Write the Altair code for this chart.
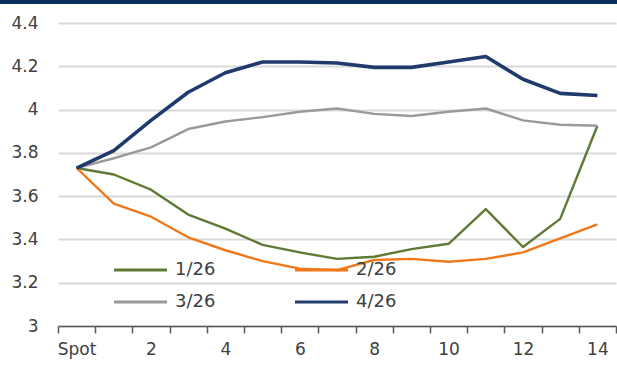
import altair as alt
import pandas as pd

# Curve tenors (x categories)
tenors = ["Spot", "1", "2", "3", "4", "5", "6", "7", "8", "9", "10", "11", "12", "13", "14"]

# Curves by snapshot date
curve_1_26 = [3.73, 3.70, 3.63, 3.515, 3.45, 3.375, 3.34, 3.31, 3.32, 3.355, 3.38, 3.54, 3.365, 3.495, 3.925]
curve_2_26 = [3.73, 3.565, 3.505, 3.41, 3.35, 3.30, 3.265, 3.258, 3.305, 3.31, 3.297, 3.31, 3.34, 3.405, 3.47]
curve_3_26 = [3.73, 3.775, 3.825, 3.91, 3.945, 3.965, 3.99, 4.005, 3.98, 3.97, 3.99, 4.005, 3.95, 3.93, 3.925]
curve_4_26 = [3.73, 3.81, 3.95, 4.08, 4.17, 4.22, 4.22, 4.215, 4.195, 4.195, 4.22, 4.245, 4.14, 4.075, 4.065]

series_names = ["1/26", "2/26", "3/26", "4/26"]
series_colors = ["#5e7a35", "#f07818", "#9a9a9a", "#1f3a6b"]

y_ticks = [3.0, 3.2, 3.4, 3.6, 3.8, 4.0, 4.2, 4.4]
x_labels_shown = ["Spot", "2", "4", "6", "8", "10", "12", "14"]

rows = []
for name, vals in zip(series_names, [curve_1_26, curve_2_26, curve_3_26, curve_4_26]):
    for t, v in zip(tenors, vals):
        rows.append({"tenor": t, "value": v, "series": name})
df = pd.DataFrame(rows)

FONT = "DejaVu Sans"
TEXT = "#404040"

shown = "[" + ",".join(f"'{s}'" for s in x_labels_shown) + "]"

x_enc = alt.X(
    "tenor:N",
    sort=tenors,
    bandPosition=0.5,
    scale=alt.Scale(type="band", domain=tenors, paddingInner=0, paddingOuter=0),
    axis=alt.Axis(
        title=None,
        labelAngle=0,
        tickBand="extent",
        tickSize=7,
        tickColor="#595959",
        tickWidth=1.5,
        domainColor="#595959",
        domainWidth=1.5,
        labelPadding=8,
        labelFont=FONT,
        labelFontSize=17,
        labelColor=TEXT,
        labelExpr=f"indexof({shown}, datum.value) >= 0 ? datum.value : ''",
        grid=False,
    ),
)

y_enc = alt.Y(
    "value:Q",
    scale=alt.Scale(domain=[3.0, 4.4], nice=False, zero=False),
    axis=alt.Axis(
        title=None,
        values=y_ticks,
        format=".1~f",
        ticks=False,
        domain=False,
        labelPadding=20,
        labelFont=FONT,
        labelFontSize=17,
        labelColor=TEXT,
        gridColor="#d9d9d9",
        gridWidth=2,
    ),
)

color_enc = alt.Color(
    "series:N",
    scale=alt.Scale(domain=series_names, range=series_colors),
    legend=alt.Legend(
        title=None,
        orient="none",
        legendX=73.5,
        legendY=238,
        columns=2,
        direction="horizontal",
        symbolType="M-5.3,0H5.3",
        symbolSize=100,
        symbolStrokeWidth=3,
        labelOffset=25.5,
        columnPadding=73,
        rowPadding=14,
        labelFont=FONT,
        labelFontSize=18,
        labelColor=TEXT,
    ),
)

base = alt.Chart(df).encode(x=x_enc, y=y_enc, color=color_enc)

# Thin curves for the first three dates, a heavier one for the latest
thin = base.transform_filter(alt.datum.series != "4/26").mark_line(
    strokeWidth=2.4, strokeJoin="round"
)
thick = base.transform_filter(alt.datum.series == "4/26").mark_line(
    strokeWidth=3.6, strokeJoin="round"
)

# Navy band across the top edge of the figure
top_band = alt.Chart(pd.DataFrame({"k": [0]})).mark_rect(color="#0b2d5b").encode(
    x=alt.value(-58), x2=alt.value(559), y=alt.value(-23), y2=alt.value(-19)
)

chart = alt.layer(thin, thick, top_band).properties(
    width=558,
    height=303,
    autosize=alt.AutoSizeParams(type="none"),
    padding={"left": 58, "top": 23, "right": 1, "bottom": 41},
    background="white",
).configure_view(stroke=None)

chart.save("out.html", embed_options={"renderer": "svg", "actions": False})
